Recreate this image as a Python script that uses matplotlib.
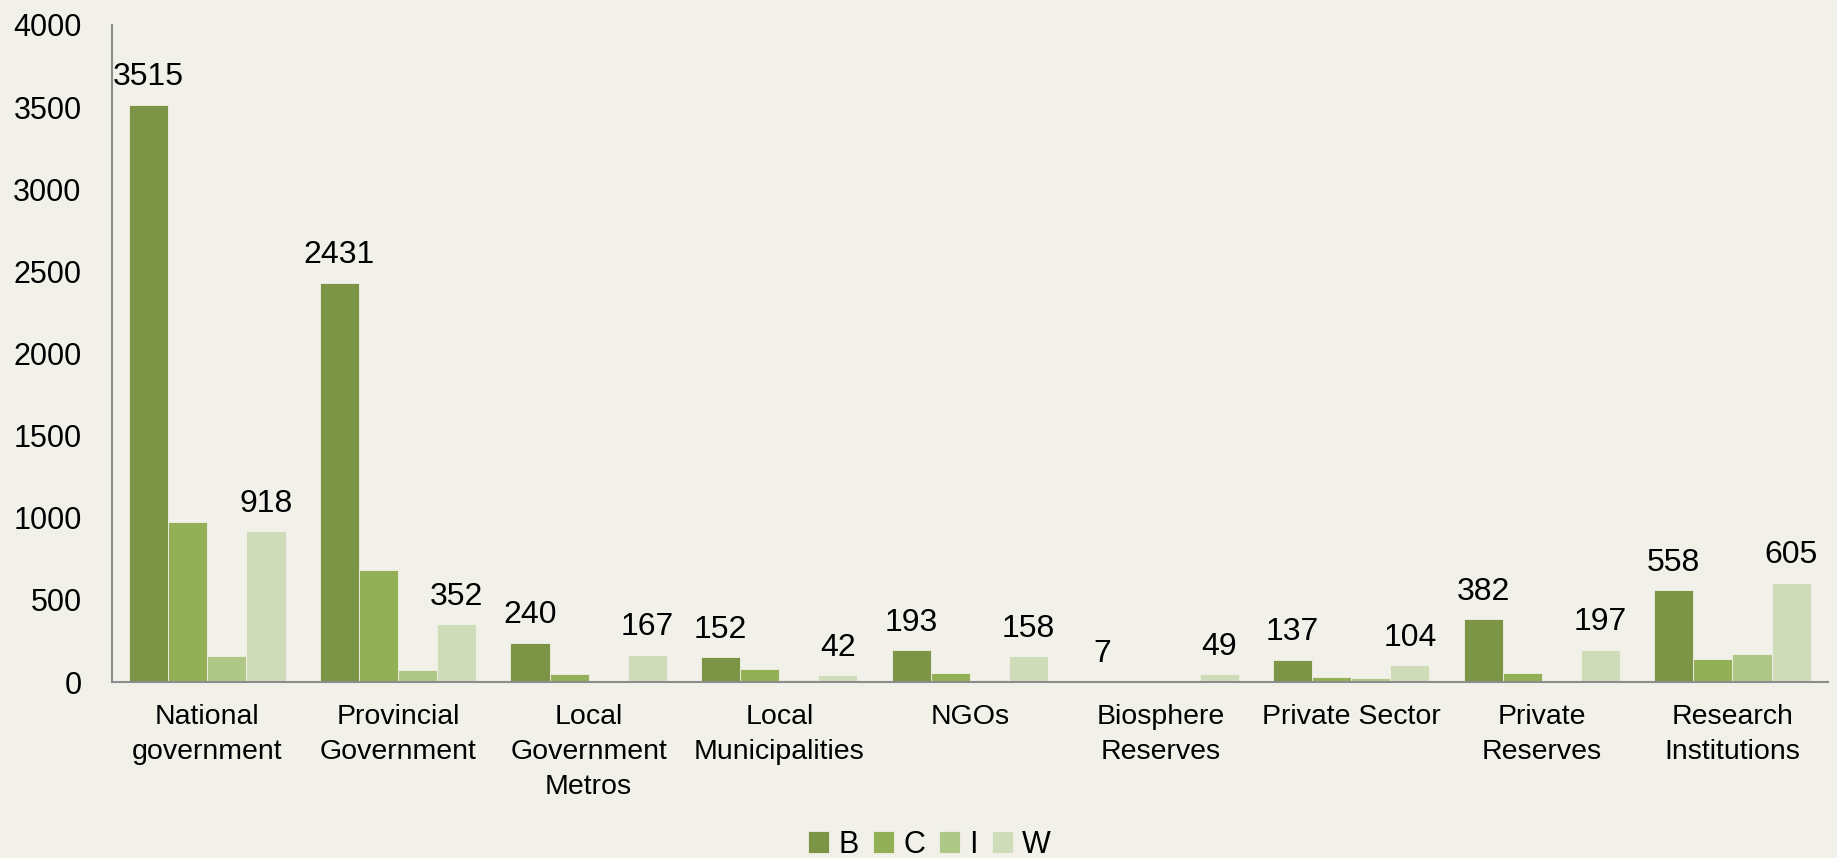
import matplotlib.pyplot as plt
import numpy as np

plt.rcParams['font.family'] = ['Liberation Sans', 'DejaVu Sans']

categories = ['National\ngovernment', 'Provincial\nGovernment', 'Local\nGovernment\nMetros',
              'Local\nMunicipalities', 'NGOs', 'Biosphere\nReserves', 'Private Sector',
              'Private\nReserves', 'Research\nInstitutions']
series_names = ['B', 'C', 'I', 'W']
b_vals = [3515, 2431, 240, 152, 193, 7, 137, 382, 558]
c_vals = [977, 683, 51, 82, 55, 5, 33, 53, 141]
i_vals = [158, 72, 5, 12, 12, 0, 25, 0, 174]
w_vals = [918, 352, 167, 42, 158, 49, 104, 197, 605]
colors = ['#7b9446', '#93b056', '#afc787', '#cfdcb9']
bg = '#f2f1e9'

fig = plt.figure(figsize=(18.37, 8.58), dpi=100, facecolor=bg)
ax = fig.add_axes([0.061, 0.205, 0.934, 0.766], facecolor=bg)

x = np.arange(len(categories))
w = 0.205
all_vals = [b_vals, c_vals, i_vals, w_vals]
for k, (vals, name, col) in enumerate(zip(all_vals, series_names, colors)):
    pos = x + (k - 1.5) * w
    ax.bar(pos, vals, width=w, color=col, label=name, edgecolor=bg, linewidth=0.6)
    if name in ('B', 'W'):
        for p, v in zip(pos, vals):
            ax.text(p, v + 75, str(v), ha='center', va='bottom', fontsize=23)

ax.set_xlim(-0.5, len(categories) - 0.5)
ax.set_ylim(0, 4000)
ax.set_yticks(range(0, 4001, 500))
ax.set_xticks(x)
ax.set_xticklabels(categories, fontsize=20.5, linespacing=1.45, va='top')
ax.tick_params(axis='y', labelsize=22, length=0, pad=22)
ax.tick_params(axis='x', length=0, pad=16)
for s in ('top', 'right'):
    ax.spines[s].set_visible(False)
for s in ('left', 'bottom'):
    ax.spines[s].set_color('#8c8c8c')
    ax.spines[s].set_linewidth(1.5)

fig.legend(*ax.get_legend_handles_labels(), loc='lower center', bbox_to_anchor=(0.506, -0.034),
           ncol=4, frameon=False, fontsize=22, handlelength=0.7, handleheight=0.7,
           handletextpad=0.3, columnspacing=0.45)

plt.savefig('out.png', dpi=100, facecolor=bg)
plt.close()
